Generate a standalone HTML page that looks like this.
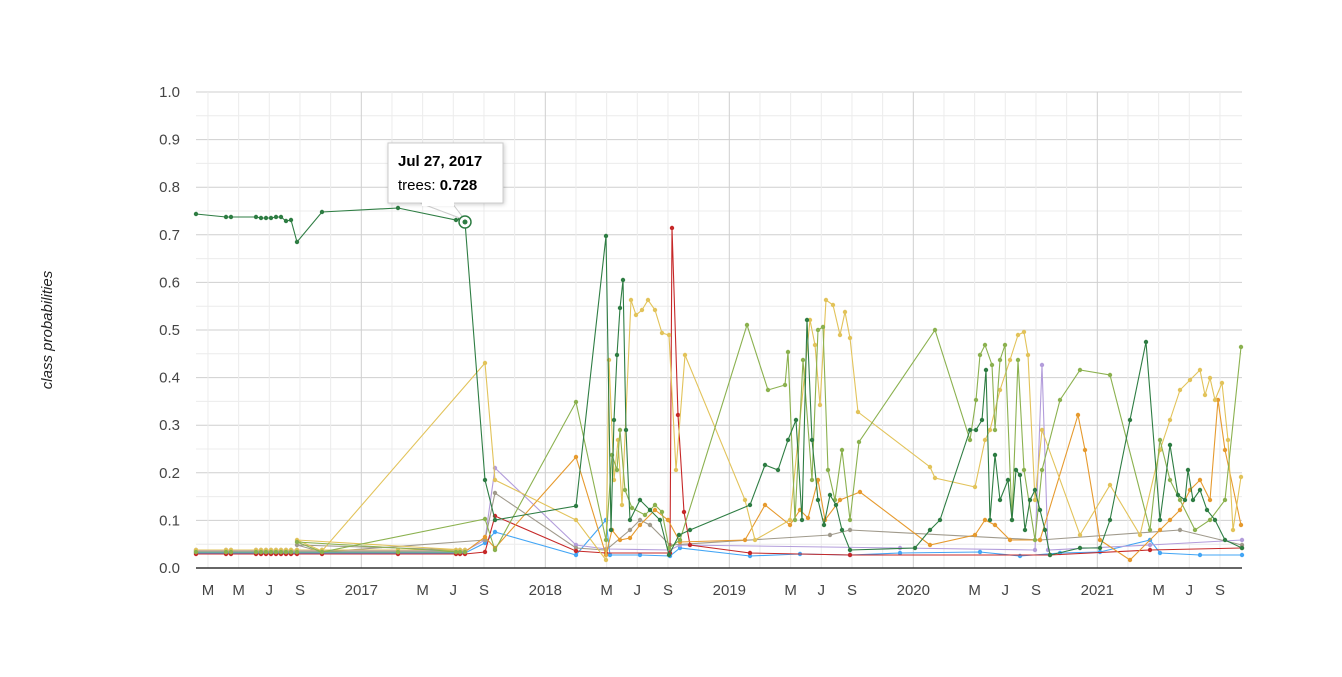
<!DOCTYPE html><html><head><style>body{margin:0;background:#fff}svg{display:block;font-family:"Liberation Sans",Arial,sans-serif}</style></head><body>
<svg id="s" width="1342" height="677" xmlns="http://www.w3.org/2000/svg">
<g id="grid"></g>
<text x="52" y="330" transform="rotate(-90 52 330)" text-anchor="middle" font-size="15" font-style="italic" fill="#222">class probabilities</text>
<g id="series"></g>
<line x1="196" y1="568" x2="1242" y2="568" stroke="#333" stroke-width="1.5"/>
<g>
<path d="M420 203 L452 203 L465 220 Z" fill="#fff" stroke="#ccc"/>
<rect x="388" y="143" width="115" height="60" fill="#fff" stroke="#ccc" style="filter:drop-shadow(1px 1px 2px rgba(0,0,0,.2))"/>
<rect x="422" y="200" width="32" height="6" fill="#fff"/>
<text x="398" y="166" font-size="15" font-weight="bold" fill="#000">Jul 27, 2017</text>
<text x="398" y="190" font-size="15" fill="#000">trees: <tspan font-weight="bold">0.728</tspan></text>
</g>
<circle cx="465" cy="222" r="6" fill="#fff" stroke="#2e7d43" stroke-width="1.5"/><circle cx="465" cy="222" r="2.5" fill="#2e7d43"/>
</svg>
<script>
const NS="http://www.w3.org/2000/svg",g=document.getElementById('grid'),S=document.getElementById('series');
function el(p,t,a,txt){const e=document.createElementNS(NS,t);for(const k in a)e.setAttribute(k,a[k]);if(txt)e.textContent=txt;p.appendChild(e);return e;}
for(let i=0;i<=20;i++){const y=568-i*23.8;el(g,'line',{x1:196,x2:1242,y1:y,y2:y,stroke:i%2?'#ececec':'#cfcfcf'});
if(i%2==0)el(g,'text',{x:180,y:y+5,'text-anchor':'end','font-size':15,fill:'#444'},(i/20).toFixed(1));}
const yr0=177.3,Y=184;const labs=['','M','M','J','S',''];
for(let yr=0;yr<6;yr++)for(let m=0;m<6;m++){const x=yr0+yr*Y+m*Y/6;if(x<196||x>1242)continue;
el(g,'line',{x1:x,x2:x,y1:92,y2:568,stroke:m==0?'#cfcfcf':'#ececec'});
let t=m==0?String(2016+yr):labs[m];if(m==1&&yr>0)t='';if(t)el(g,'text',{x:x,y:595,'text-anchor':'middle','font-size':15,fill:'#444'},t);}
const flat=[196,226,231,256,261,266,271,276,281,286,291,297,322,398,456,460,465];
const data={
'#42a5f5':[...flat.map(x=>[x,553]),[485,543],[495,532],[576,555],[606,520],[610,555],[640,555],[670,556],[680,548],[750,556],[800,554],[850,555],[900,553],[980,552],[1020,556],[1060,553],[1100,552],[1150,540],[1160,553],[1200,555],[1242,555]],
'#b39ddb':[...flat.map(x=>[x,551]),[485,540],[495,468],[576,545],[606,549],[670,550],[680,545],[900,548],[1035,550],[1042,365],[1048,550],[1150,545],[1242,540]],
'#a09a8c':[...flat.map(x=>[x,550]),[297,545],[322,552],[485,540],[495,493],[576,548],[606,550],[630,530],[640,520],[650,525],[670,545],[830,535],[850,530],[1040,540],[1180,530],[1242,545]],
'#c62828':[...flat.map(x=>[x,554]),[485,552],[495,516],[576,551],[606,553],[670,553],[672,228],[678,415],[684,512],[690,545],[750,553],[850,555],[1050,555],[1150,550],[1242,548]],
'#e69a2e':[...flat.map(x=>[x,552]),[485,537],[495,548],[576,457],[606,555],[612,530],[620,540],[630,538],[640,525],[655,510],[668,520],[680,542],[745,540],[765,505],[790,525],[800,510],[808,518],[818,480],[825,520],[840,500],[860,492],[930,545],[975,535],[985,520],[995,525],[1010,540],[1040,540],[1078,415],[1085,450],[1100,540],[1130,560],[1160,530],[1170,520],[1180,510],[1190,490],[1200,480],[1210,500],[1218,400],[1225,450],[1241,525]],
'#e2c35a':[...flat.map(x=>[x,550]),[297,540],[322,551],[485,363],[495,480],[576,520],[606,560],[609,360],[614,480],[618,440],[622,505],[631,300],[636,315],[642,310],[648,300],[655,310],[662,333],[669,335],[676,470],[685,355],[745,500],[755,540],[790,520],[810,320],[815,345],[820,405],[826,300],[833,305],[840,335],[845,312],[850,338],[858,412],[930,467],[935,478],[975,487],[985,440],[990,430],[1000,390],[1010,360],[1018,335],[1024,332],[1028,355],[1035,500],[1042,430],[1080,535],[1110,485],[1140,535],[1160,450],[1170,420],[1180,390],[1190,380],[1200,370],[1205,395],[1210,378],[1215,400],[1222,383],[1228,440],[1233,530],[1241,477]],
'#8bb14f':[...flat.map(x=>[x,552]),[297,542],[322,552],[485,519],[495,550],[576,402],[606,540],[612,455],[617,470],[620,430],[625,490],[632,508],[645,515],[655,505],[662,512],[669,548],[680,540],[747,325],[768,390],[785,385],[788,352],[795,520],[803,360],[812,480],[818,330],[823,327],[828,470],[835,500],[842,450],[850,520],[859,442],[935,330],[970,440],[976,400],[980,355],[985,345],[992,365],[995,430],[1000,360],[1005,345],[1012,520],[1018,360],[1024,470],[1035,540],[1042,470],[1060,400],[1080,370],[1110,375],[1150,530],[1160,440],[1170,480],[1180,500],[1195,530],[1210,520],[1225,500],[1241,347]],
'#2e7d43':[[196,214],[226,217],[231,217],[256,217],[261,218],[266,218],[271,218],[276,217],[281,217],[286,221],[291,220],[297,242],[322,212],[398,208],[456,220],[460,219],[465,222],[485,480],[495,520],[576,506],[606,236],[611,530],[614,420],[617,355],[620,308],[623,280],[626,430],[630,520],[640,500],[650,510],[660,520],[669,555],[679,535],[690,530],[750,505],[765,465],[778,470],[788,440],[796,420],[802,520],[807,320],[812,440],[818,500],[824,525],[830,495],[836,505],[842,530],[850,550],[915,548],[930,530],[940,520],[970,430],[976,430],[982,420],[986,370],[990,520],[995,455],[1000,500],[1008,480],[1012,520],[1016,470],[1020,475],[1025,530],[1030,500],[1035,490],[1040,510],[1045,530],[1050,555],[1080,548],[1100,548],[1110,520],[1130,420],[1146,342],[1160,520],[1170,445],[1178,495],[1185,500],[1188,470],[1193,500],[1200,490],[1207,510],[1215,520],[1225,540],[1242,548]]};
for(const c in data){const p=data[c];el(S,'polyline',{points:p.map(q=>q.join(',')).join(' '),fill:'none',stroke:c,'stroke-width':1.1});
p.forEach(q=>el(S,'circle',{cx:q[0],cy:q[1],r:2.2,fill:c}));}
</script>
</body></html>
